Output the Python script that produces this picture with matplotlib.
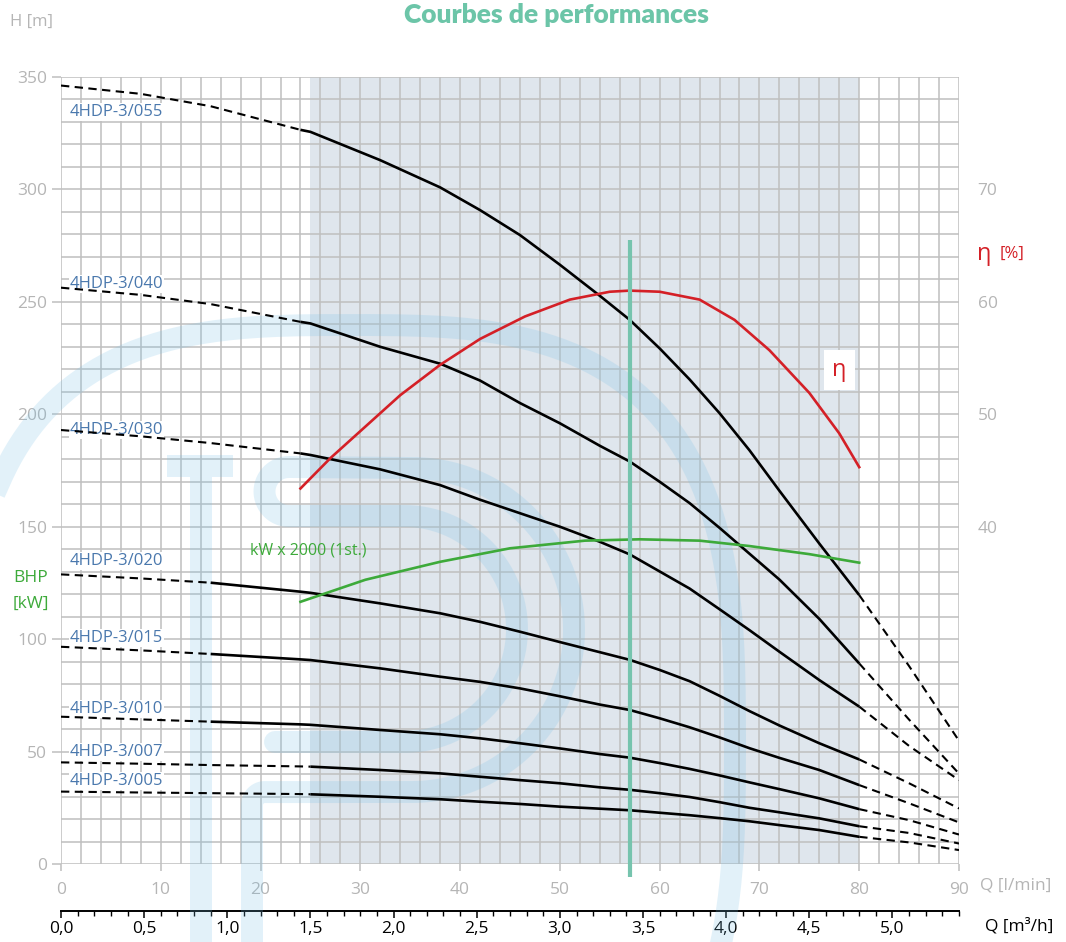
import numpy as np
import matplotlib
matplotlib.use("Agg")
import matplotlib.pyplot as plt
from matplotlib.transforms import Affine2D
from matplotlib.ticker import MultipleLocator, FuncFormatter

plt.rcParams['font.family'] = ['Open Sans', 'DejaVu Sans']

# ---- data ----
q = [0, 8, 15, 24, 25, 32, 38, 42, 46, 50, 54, 57, 60, 63, 66, 69, 72, 76, 80, 85, 90]  # l/min

h_055 = [346.2, 342.5, 337.0, 326.5, 325.6, 313.0, 300.9, 290.8, 279.7, 266.5, 252.7, 242.0, 229.3, 215.5, 200.5, 184.0, 166.0, 142.5, 119.6, 88.0, 54.8]
h_040 = [256.3, 253.1, 249.0, 241.1, 240.4, 230.0, 222.5, 215.0, 205.0, 196.0, 186.0, 179.0, 170.0, 160.5, 149.5, 138.0, 126.5, 109.0, 89.2, 64.2, 40.2]
h_030 = [193.0, 190.2, 187.2, 182.6, 181.9, 175.5, 168.5, 162.0, 156.0, 150.0, 143.3, 137.7, 130.1, 122.5, 113.3, 104.0, 94.4, 81.8, 70.0, 52.5, 37.3]
h_020 = [128.8, 127.0, 125.1, 121.1, 120.6, 115.9, 111.5, 107.7, 103.3, 98.7, 94.2, 90.8, 86.3, 81.3, 74.8, 68.0, 61.6, 53.7, 46.5, 35.9, 24.7]
h_015 = [96.6, 95.0, 93.4, 91.0, 90.7, 87.0, 83.3, 81.0, 78.1, 74.6, 70.9, 68.5, 64.8, 60.8, 56.3, 51.5, 47.2, 41.8, 35.1, 27.0, 18.5]
h_010 = [65.5, 64.3, 63.3, 62.1, 61.9, 59.6, 57.7, 55.9, 53.7, 51.4, 48.9, 47.3, 44.9, 42.3, 39.4, 36.3, 33.3, 29.2, 24.4, 19.5, 13.1]
h_007 = [45.2, 44.6, 44.0, 43.4, 43.3, 41.8, 40.3, 38.8, 37.3, 35.9, 34.1, 33.0, 31.5, 29.8, 27.5, 25.0, 23.0, 20.3, 16.8, 13.8, 9.1]
h_005 = [32.2, 31.8, 31.5, 31.1, 31.0, 29.9, 28.8, 27.7, 26.7, 25.5, 24.6, 23.9, 22.8, 21.7, 20.4, 19.0, 17.3, 15.1, 12.1, 9.6, 6.2]

models = ['4HDP-3/055', '4HDP-3/040', '4HDP-3/030', '4HDP-3/020',
          '4HDP-3/015', '4HDP-3/010', '4HDP-3/007', '4HDP-3/005']
heads = [h_055, h_040, h_030, h_020, h_015, h_010, h_007, h_005]
label_h = [334.4, 257.9, 193.0, 134.7, 100.5, 68.9, 49.8, 36.9]
solid_from = [24, 24, 24, 15, 15, 15, 25, 25]
solid_to = 80

q_eta = [24, 27, 30.5, 34, 38, 42, 46.5, 51, 55, 57, 60, 64, 67.5, 71, 75, 78, 80]
eta = [43.4, 46.1, 48.9, 51.7, 54.4, 56.7, 58.7, 60.2, 60.9, 61.0, 60.9, 60.2, 58.4, 55.7, 51.9, 48.3, 45.3]  # %

q_kw = [24, 30.5, 38, 45, 52.5, 58, 64, 69, 75, 80]
kw = [0.0583, 0.0632, 0.0672, 0.0702, 0.0719, 0.0722, 0.0719, 0.0707, 0.0689, 0.0670]  # kW, one stage
kw_scale = 2000

q_duty = 57
range_lo, range_hi = 25, 80

W, H = 1066, 942
GRAY = '#b5b5b5'
GRID = '#bfbfbf'
BLUE = '#4a78ad'
RED = '#d42027'
GREEN = '#3daa3a'
TEAL = '#76c4ae'

fig = plt.figure(figsize=(W / 100, H / 100), dpi=100)
ax = fig.add_axes([61 / W, 1 - 864 / H, (959 - 61) / W, (864 - 77) / H])
px = Affine2D().scale(1 / W, -1 / H).translate(0, 1) + fig.transFigure

# operating range shading
ax.axvspan(range_lo, range_hi, color='#dfe6ed', zorder=0.2, lw=0)

# faint logo in the background (figure pixel coordinates)
wm = dict(color='#77c0e7', alpha=0.21, lw=15.8, transform=px, clip_on=False, zorder=0.8,
          solid_joinstyle='round')
t = np.linspace(0, 2 * np.pi, 400)
ct, st = np.cos(t), np.sin(t)
ax.plot(350 + 385 * np.sign(ct) * np.abs(ct) ** (2 / 3),
        745 + 420 * np.sign(st) * np.abs(st) ** (2 / 3), **wm)
ax.plot([167, 233], [466, 466], solid_capstyle='butt', **wm)
ax.plot([201, 201], [477, 960], solid_capstyle='butt', **wm)
a = np.linspace(-np.pi / 2, np.pi / 2, 120)
b = np.linspace(np.pi / 2, 3 * np.pi / 2, 60)
c = np.linspace(np.pi / 2, np.pi, 15)
dx = np.concatenate([[275], 404 + 113 * np.cos(a[::-1]), 289 + 24.5 * np.cos(b),
                     412 + 162 * np.cos(a), 265 + 13 * np.cos(c), [252]])
dy = np.concatenate([[742], 629 + 113 * np.sin(a[::-1]), 491.5 + 24.5 * np.sin(b),
                     630 + 162 * np.sin(a), 805 - 13 * np.sin(c), [960]])
ax.plot(dx, dy, solid_capstyle='round', **wm)

# grid
ax.set_axisbelow(True)
ax.xaxis.set_major_locator(MultipleLocator(10))
ax.xaxis.set_minor_locator(MultipleLocator(2))
ax.yaxis.set_major_locator(MultipleLocator(50))
ax.yaxis.set_minor_locator(MultipleLocator(10))
ax.grid(which='both', color=GRID, lw=1.1)
for s in ax.spines.values():
    s.set_visible(False)
ax.tick_params(which='major', axis='y', left=True, right=True, length=6.5, width=1.1,
               color=GRID, labelcolor=GRAY, labelsize=12.5, pad=3.5)
ax.tick_params(which='major', axis='x', length=5, width=1.1, color=GRID,
               labelcolor=GRAY, labelsize=12.5, pad=8)
ax.tick_params(which='minor', length=0)

# pump curves
qa = np.array(q)
dash = (0, (4, 2.6))
for name, h, s0, lh in zip(models, heads, solid_from, label_h):
    h = np.array(h)
    left = qa <= s0
    mid = (qa >= s0) & (qa <= solid_to)
    right = qa >= solid_to
    ax.plot(qa[left], h[left], color='black', lw=1.5, ls=dash, zorder=3)
    ax.plot(qa[right], h[right], color='black', lw=1.5, ls=dash, zorder=3)
    ax.plot(qa[mid], h[mid], color='black', lw=1.9, zorder=3.2, solid_capstyle='butt')
    ax.text(0.9, lh, name, color=BLUE, fontsize=12, va='center', ha='left', zorder=2.5,
            bbox=dict(facecolor='white', edgecolor='none', pad=0.5))

# efficiency, drawn on the head scale (eta = H/5 + 10)
eta_h = (np.array(eta) - 10) * 5
ax.plot(q_eta, eta_h, color=RED, lw=1.9, zorder=3.5)
ax.text(78, 219.6, 'η', color=RED, fontsize=17, ha='center', va='center', zorder=4,
        bbox=dict(facecolor='white', edgecolor='none', boxstyle='square,pad=0.35'))

# power x 2000
ax.plot(q_kw, np.array(kw) * kw_scale, color=GREEN, lw=1.9, zorder=3.5)
ax.text(18.9, 139.6, 'kW x 2000 (1st.)', color=GREEN, fontsize=11.5, va='center', zorder=4)

# duty point
ax.plot([q_duty, q_duty], [-6, 277.5], color=TEAL, lw=3, zorder=3.8, clip_on=False,
        solid_capstyle='butt')

ax.set_xlim(0, 90)
ax.set_ylim(0, 350)

# efficiency scale on the right
ax2 = ax.twinx()
ax2.set_ylim(10, 80)
ax2.set_yticks([40, 50, 60, 70])
ax2.tick_params(length=0, labelcolor=GRAY, labelsize=12.5, pad=13.5)
for s in ax2.spines.values():
    s.set_visible(False)

# m3/h scale below
sec = ax.secondary_xaxis(-0.06, functions=(lambda x: x * 0.06, lambda x: x / 0.06))
sec.xaxis.set_major_locator(MultipleLocator(0.5))
sec.xaxis.set_minor_locator(MultipleLocator(0.1))
sec.xaxis.set_major_formatter(FuncFormatter(lambda v, p: f'{v:.1f}'.replace('.', ',')))
sec.spines['bottom'].set_linewidth(1.4)
sec.tick_params(which='major', length=5, width=1.1, labelsize=12.5, labelcolor='black', pad=2)
sec.tick_params(which='minor', length=3.5, width=1.0)

# titles and axis names
fig.text(556 / W, 1 - 15 / H, 'Courbes de performances', color='#6cc5a8', fontsize=19,
         fontweight='heavy', family=['Lato', 'DejaVu Sans'], ha='center', va='center')
fig.text(10 / W, 1 - 22 / H, 'H [m]', color=GRAY, fontsize=12, va='center')
fig.text(980 / W, 1 - 886 / H, 'Q [l/min]', color=GRAY, fontsize=12.5, va='center')
fig.text(985 / W, 1 - 926 / H, 'Q [m³/h]', color='black', fontsize=12.5, va='center')
fig.text(977 / W, 1 - 254 / H, 'η', color=RED, fontsize=17, va='center')
fig.text(1000 / W, 1 - 254 / H, '[%]', color=RED, fontsize=12, va='center')
fig.text(13 / W, 1 - 578 / H, 'BHP', color=GREEN, fontsize=12.5, va='center')
fig.text(13 / W, 1 - 604 / H, '[kW]', color=GREEN, fontsize=12.5, va='center')

fig.savefig('out.png', dpi=100)
